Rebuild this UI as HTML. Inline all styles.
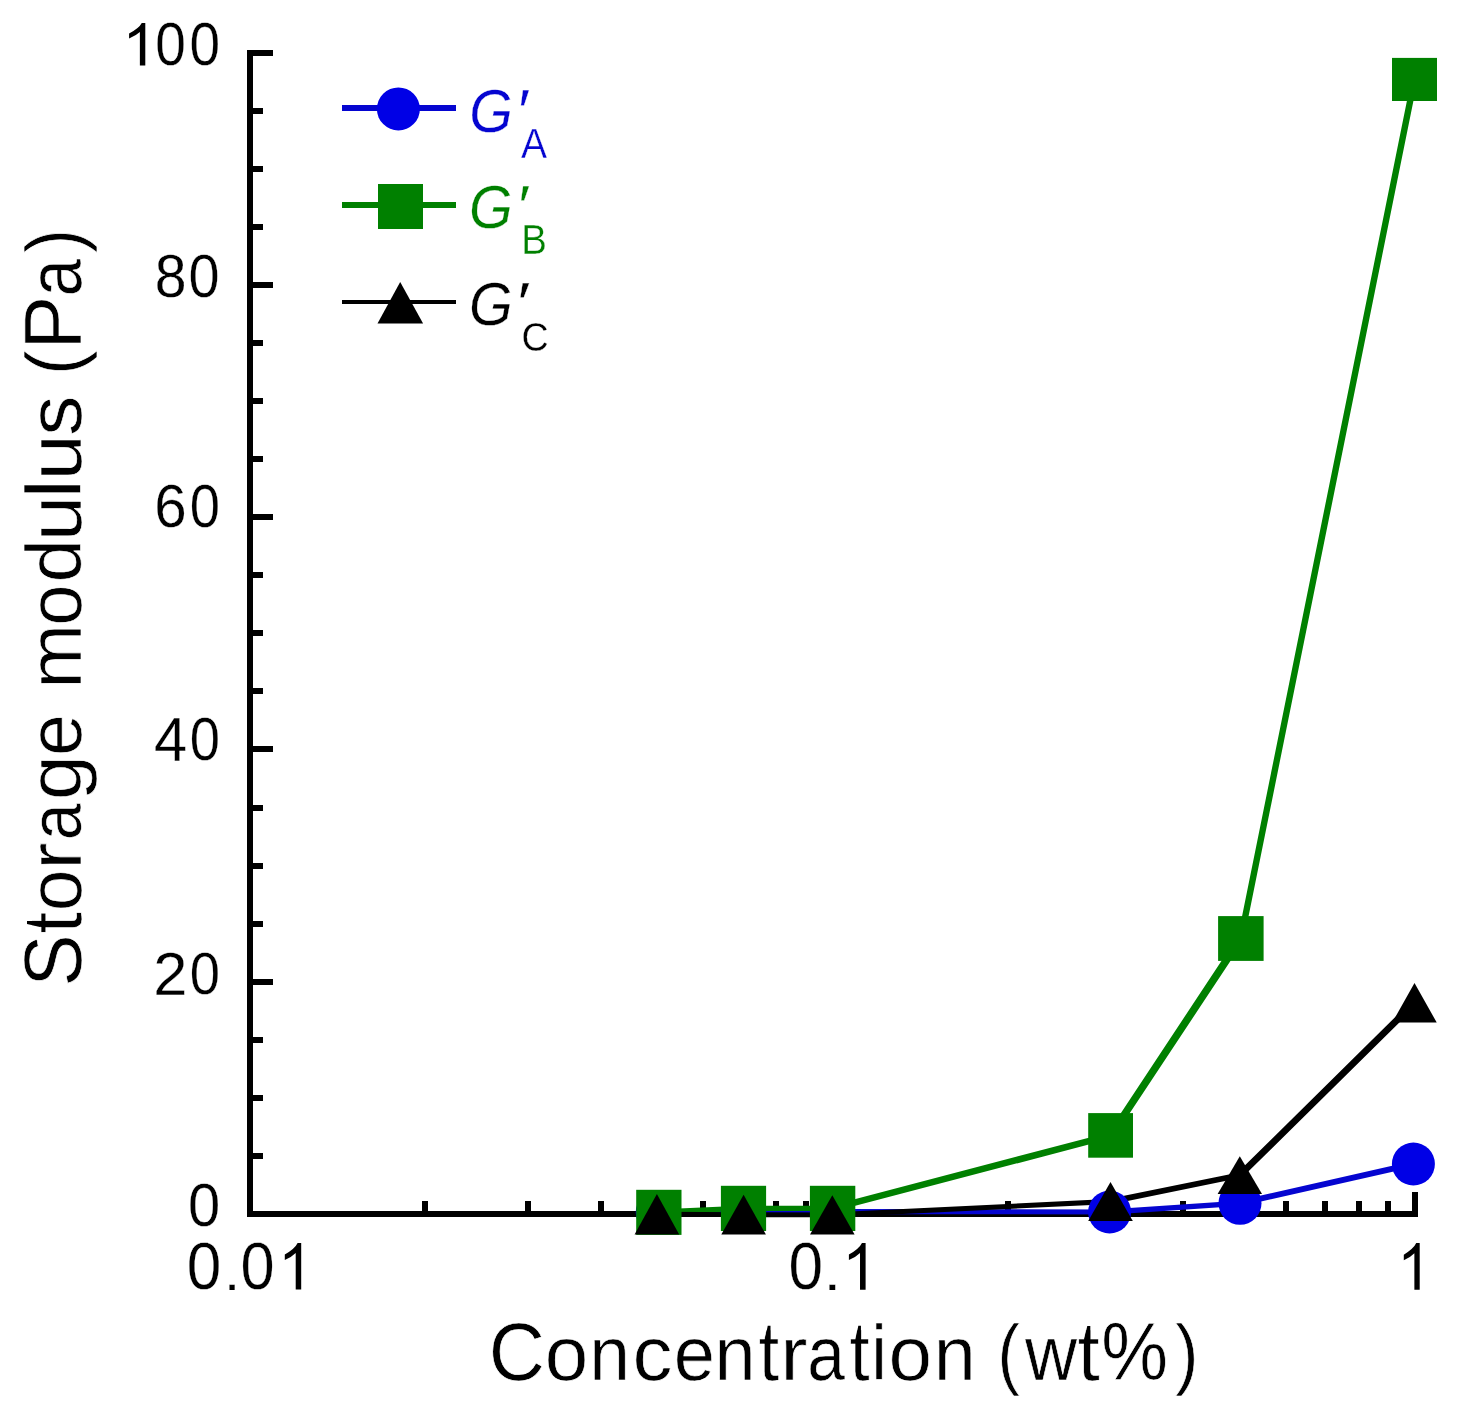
<!DOCTYPE html>
<html><head><meta charset="utf-8"><title>Storage modulus vs concentration</title>
<style>html,body{margin:0;padding:0;background:#fff;}svg{display:block;will-change:transform;}</style></head>
<body><svg width="1464" height="1413" viewBox="0 0 1464 1413" font-family="'Liberation Sans', sans-serif">
<rect width="1464" height="1413" fill="#fff"/>
<g fill="#000" shape-rendering="crispEdges"><rect x="247" y="50" width="6" height="1167"/><rect x="247" y="1211" width="1171" height="6"/><rect x="247" y="1211" width="26" height="6"/><rect x="247" y="1153" width="16" height="6"/><rect x="247" y="1095" width="16" height="6"/><rect x="247" y="1037" width="16" height="6"/><rect x="247" y="979" width="26" height="6"/><rect x="247" y="921" width="16" height="6"/><rect x="247" y="863" width="16" height="6"/><rect x="247" y="805" width="16" height="6"/><rect x="247" y="746" width="26" height="6"/><rect x="247" y="688" width="16" height="6"/><rect x="247" y="630" width="16" height="6"/><rect x="247" y="572" width="16" height="6"/><rect x="247" y="514" width="26" height="6"/><rect x="247" y="456" width="16" height="6"/><rect x="247" y="398" width="16" height="6"/><rect x="247" y="340" width="16" height="6"/><rect x="247" y="282" width="26" height="6"/><rect x="247" y="224" width="16" height="6"/><rect x="247" y="166" width="16" height="6"/><rect x="247" y="108" width="16" height="6"/><rect x="247" y="50" width="26" height="6"/><rect x="422" y="1201" width="6" height="16"/><rect x="525" y="1201" width="6" height="16"/><rect x="598" y="1201" width="6" height="16"/><rect x="654" y="1201" width="6" height="16"/><rect x="700" y="1201" width="6" height="16"/><rect x="739" y="1201" width="6" height="16"/><rect x="773" y="1201" width="6" height="16"/><rect x="803" y="1201" width="6" height="16"/><rect x="830" y="1201" width="6" height="16"/><rect x="1005" y="1201" width="6" height="16"/><rect x="1107" y="1201" width="6" height="16"/><rect x="1180" y="1201" width="6" height="16"/><rect x="1237" y="1201" width="6" height="16"/><rect x="1283" y="1201" width="6" height="16"/><rect x="1322" y="1201" width="6" height="16"/><rect x="1356" y="1201" width="6" height="16"/><rect x="1385" y="1201" width="6" height="16"/><rect x="830" y="1192" width="6" height="25"/><rect x="1412" y="1192" width="6" height="25"/></g>
<g fill="#000" stroke="#fff" stroke-width="0.45"><path transform="matrix(0.03011 0 0 -0.02899 122.32 65.40)" d="M763 0L763 1466L646 1466Q560 1290 225 1103L225 930Q450 1020 583 1150L583 0Z" fill="#000" stroke="none"/><text transform="matrix(0.5502 0 0 0.6073 155.15 64.81)" font-size="100" fill="#000">0</text><text transform="matrix(0.5502 0 0 0.6073 189.55 64.81)" font-size="100" fill="#000">0</text><text transform="matrix(0.5711 0 0 0.6088 154.82 297.31)" font-size="100" fill="#000">8</text><text transform="matrix(0.5585 0 0 0.6088 188.62 297.31)" font-size="100" fill="#000">0</text><text transform="matrix(0.5830 0 0 0.6031 154.14 527.21)" font-size="100" fill="#000">6</text><text transform="matrix(0.5439 0 0 0.6031 189.78 527.21)" font-size="100" fill="#000">0</text><text transform="matrix(0.5953 0 0 0.6250 154.03 760.50)" font-size="100" fill="#000">4</text><text transform="matrix(0.5439 0 0 0.6073 189.78 759.91)" font-size="100" fill="#000">0</text><text transform="matrix(0.6146 0 0 0.6101 153.31 994.60)" font-size="100" fill="#000">2</text><text transform="matrix(0.5439 0 0 0.6017 189.78 994.01)" font-size="100" fill="#000">0</text><text transform="matrix(0.5795 0 0 0.6073 187.94 1226.21)" font-size="100" fill="#000">0</text><text transform="matrix(0.6213 0 0 0.6582 186.87 1288.96)" font-size="100" fill="#000">0</text><text transform="matrix(0.5986 0 0 0.4956 223.83 1289.60)" font-size="100" fill="#000">.</text><text transform="matrix(0.6129 0 0 0.6582 240.61 1288.96)" font-size="100" fill="#000">0</text><path transform="matrix(0.03048 0 0 -0.03179 277.94 1289.60)" d="M763 0L763 1466L646 1466Q560 1290 225 1103L225 930Q450 1020 583 1150L583 0Z" fill="#000" stroke="none"/><text transform="matrix(0.6213 0 0 0.6624 788.57 1289.15)" font-size="100" fill="#000">0</text><text transform="matrix(0.6512 0 0 0.4956 823.35 1289.80)" font-size="100" fill="#000">.</text><path transform="matrix(0.03104 0 0 -0.03199 841.92 1289.80)" d="M763 0L763 1466L646 1466Q560 1290 225 1103L225 930Q450 1020 583 1150L583 0Z" fill="#000" stroke="none"/><path transform="matrix(0.02955 0 0 -0.03186 1397.15 1289.80)" d="M763 0L763 1466L646 1466Q560 1290 225 1103L225 930Q450 1020 583 1150L583 0Z" fill="#000" stroke="none"/></g>
<g fill="#000" stroke="#fff" stroke-width="0.8"><text transform="matrix(0.7769 0 0 0.8077 488.65 1380.30)" font-size="100" fill="#000">C</text><text transform="matrix(0.7815 0 0 0.7564 544.82 1380.30)" font-size="100" fill="#000">o</text><text transform="matrix(0.7321 0 0 0.7582 589.14 1380.30)" font-size="100" fill="#000">n</text><text transform="matrix(0.7979 0 0 0.7564 632.41 1380.30)" font-size="100" fill="#000">c</text><text transform="matrix(0.7416 0 0 0.7564 673.65 1380.30)" font-size="100" fill="#000">e</text><text transform="matrix(0.7392 0 0 0.7582 714.49 1380.30)" font-size="100" fill="#000">n</text><text transform="matrix(0.7479 0 0 0.7723 758.57 1380.30)" font-size="100" fill="#000">t</text><path transform="matrix(0.7479 0 0 0.7723 758.57 1380.30)" d="M8.387 -52.832L12.300 -70.702L15.978 -70.702L15.978 -52.832Z" fill="#000" stroke="none"/><text transform="matrix(0.8200 0 0 0.7582 780.15 1380.30)" font-size="100" fill="#000">r</text><text transform="matrix(0.6775 0 0 0.7564 807.32 1380.30)" font-size="100" fill="#000">a</text><text transform="matrix(0.7244 0 0 0.7723 849.40 1380.30)" font-size="100" fill="#000">t</text><path transform="matrix(0.7244 0 0 0.7723 849.40 1380.30)" d="M8.401 -52.832L12.314 -70.702L15.965 -70.702L15.965 -52.832Z" fill="#000" stroke="none"/><text transform="matrix(0.7054 0 0 0.7742 871.18 1380.30)" font-size="100" fill="#000">i</text><text transform="matrix(0.7815 0 0 0.7564 888.42 1380.30)" font-size="100" fill="#000">o</text><text transform="matrix(0.7556 0 0 0.7582 933.78 1380.30)" font-size="100" fill="#000">n</text><text transform="matrix(0.6714 0 0 0.7784 997.44 1380.30)" font-size="100" fill="#000">(</text><text transform="matrix(0.7217 0 0 0.7704 1025.11 1380.30)" font-size="100" fill="#000">w</text><text transform="matrix(0.8028 0 0 0.7723 1077.48 1380.30)" font-size="100" fill="#000">t</text><path transform="matrix(0.8028 0 0 0.7723 1077.48 1380.30)" d="M8.358 -52.832L12.186 -70.313L16.008 -70.313L16.008 -52.832Z" fill="#000" stroke="none"/><text transform="matrix(0.7520 0 0 0.8129 1101.32 1380.30)" font-size="100" fill="#000">%</text><text transform="matrix(0.6978 0 0 0.7784 1175.29 1380.30)" font-size="100" fill="#000">)</text></g>
<g fill="#000" stroke="#fff" stroke-width="0.8"><text transform="matrix(0 -0.7869 0.8120 0 80.90 986.77)" font-size="100" fill="#000">S</text><text transform="matrix(0 -0.7793 0.7647 0 80.90 933.48)" font-size="100" fill="#000">t</text><path transform="matrix(0 -0.7793 0.7647 0 80.90 933.48)" d="M8.370 -52.832L12.236 -70.486L15.996 -70.486L15.996 -52.832Z" fill="#000" stroke="none"/><text transform="matrix(0 -0.7497 0.7508 0 80.90 911.35)" font-size="100" fill="#000">o</text><text transform="matrix(0 -0.8200 0.7508 0 80.90 869.75)" font-size="100" fill="#000">r</text><text transform="matrix(0 -0.6619 0.7452 0 80.90 840.21)" font-size="100" fill="#000">a</text><text transform="matrix(0 -0.8161 0.7529 0 80.90 800.13)" font-size="100" fill="#000">g</text><text transform="matrix(0 -0.7544 0.7508 0 80.90 756.10)" font-size="100" fill="#000">e</text><text transform="matrix(0 -0.7778 0.7508 0 80.90 688.67)" font-size="100" fill="#000">m</text><text transform="matrix(0 -0.7413 0.7508 0 80.90 625.71)" font-size="100" fill="#000">o</text><text transform="matrix(0 -0.7850 0.7825 0 80.90 582.40)" font-size="100" fill="#000">d</text><text transform="matrix(0 -0.8168 0.7647 0 80.90 541.30)" font-size="100" fill="#000">u</text><text transform="matrix(0 -0.8875 0.7825 0 80.90 498.78)" font-size="100" fill="#000">l</text><text transform="matrix(0 -0.8333 0.7647 0 80.90 480.51)" font-size="100" fill="#000">u</text><text transform="matrix(0 -0.8050 0.7529 0 80.90 435.64)" font-size="100" fill="#000">s</text><text transform="matrix(0 -0.7468 0.7825 0 80.90 375.33)" font-size="100" fill="#000">(</text><text transform="matrix(0 -0.8098 0.8241 0 80.90 349.74)" font-size="100" fill="#000">P</text><text transform="matrix(0 -0.6755 0.7508 0 80.90 296.47)" font-size="100" fill="#000">a</text><text transform="matrix(0 -0.7242 0.7825 0 80.90 253.02)" font-size="100" fill="#000">)</text></g>
<path d="M654.7 1209.8L739.8 1209.3L744.8 1209.3L744.8 1214.3L659.7 1214.8L654.7 1214.8ZM739.8 1209.3L830.0 1209.0L835.0 1209.0L835.0 1214.0L744.8 1214.3L739.8 1214.3ZM830.0 1209.0L835.0 1209.0L1112.1 1209.5L1112.1 1214.5L1107.1 1214.5L830.0 1214.0ZM1107.1 1209.5L1237.5 1200.8L1242.5 1200.8L1242.5 1205.8L1112.1 1214.5L1107.1 1214.5ZM1237.5 1200.8L1410.9 1161.5L1415.9 1161.5L1415.9 1166.5L1242.5 1205.8L1237.5 1205.8Z" fill="#0505d0"/>
<path d="M656.1 1209.6L740.8 1205.7L746.2 1205.7L746.2 1211.1L661.6 1215.0L656.1 1215.0ZM740.8 1205.7L835.3 1205.7L835.3 1211.1L740.8 1211.1ZM829.9 1205.7L1107.9 1132.7L1113.3 1132.7L1113.3 1138.1L835.3 1211.1L829.9 1211.1ZM1107.9 1132.7L1238.1 935.8L1243.5 935.8L1243.5 941.2L1113.3 1138.1L1107.9 1138.1ZM1238.1 935.8L1411.8 76.8L1417.2 76.8L1417.2 82.2L1243.5 941.2L1238.1 941.2Z" fill="#008000"/>
<path d="M654.5 1211.8L659.3 1211.8L746.0 1212.2L746.0 1217.1L741.2 1217.1L654.5 1216.7ZM741.2 1212.2L746.0 1212.2L834.7 1212.5L834.7 1217.3L829.9 1217.3L741.2 1217.1ZM829.9 1212.5L1108.1 1199.1L1112.9 1199.1L1112.9 1203.9L834.7 1217.3L829.9 1217.3ZM1108.1 1199.1L1237.4 1172.8L1242.2 1172.8L1242.2 1177.6L1112.9 1203.9L1108.1 1203.9ZM1237.4 1172.8L1412.1 1000.4L1416.9 1000.4L1416.9 1005.2L1242.2 1177.6L1237.4 1177.6Z" fill="#000000"/>
<circle cx="657.2" cy="1212.3" r="21.5" fill="#0000e6"/><circle cx="742.3" cy="1211.8" r="21.5" fill="#0000e6"/><circle cx="832.5" cy="1211.5" r="21.5" fill="#0000e6"/><circle cx="1109.6" cy="1212.0" r="21.5" fill="#0000e6"/><circle cx="1240.0" cy="1203.3" r="21.5" fill="#0000e6"/><circle cx="1413.4" cy="1164.0" r="21.5" fill="#0000e6"/>
<rect x="636.2" y="1189.8" width="45.3" height="45.1" fill="#008000"/><rect x="720.9" y="1185.8" width="45.2" height="45.2" fill="#008000"/><rect x="809.9" y="1185.8" width="45.4" height="45.2" fill="#008000"/><rect x="1088.2" y="1113.1" width="44.8" height="44.6" fill="#008000"/><rect x="1218.1" y="916.1" width="45.5" height="44.8" fill="#008000"/><rect x="1392.0" y="57.9" width="45.0" height="43.1" fill="#008000"/>
<path d="M656.9 1194.0L679.2 1234.5L634.6 1234.5Z" fill="#000000"/><path d="M743.6 1194.7L765.9 1234.6L721.3 1234.6Z" fill="#000000"/><path d="M832.3 1195.3L854.6 1234.6L810.0 1234.6Z" fill="#000000"/><path d="M1110.5 1182.1L1132.8 1220.9L1088.2 1220.9Z" fill="#000000"/><path d="M1239.8 1156.2L1262.0 1194.1L1217.6 1194.1Z" fill="#000000"/><path d="M1414.5 983.1L1436.7 1022.5L1392.3 1022.5Z" fill="#000000"/>
<rect x="342" y="105" width="114" height="6" fill="#0505d0"/><circle cx="398.4" cy="108.9" r="21.5" fill="#0000e6"/><rect x="342" y="202" width="114" height="6" fill="#008000"/><rect x="378" y="184" width="45" height="45" fill="#008000"/><rect x="342" y="300" width="114" height="4" fill="#000000"/><path d="M400.2 282.1L423.1 323.6L377.5 323.6Z" fill="#000000"/><g stroke="#fff" stroke-width="0.5"><text transform="matrix(0.5601 0 0 0.6172 469.34 132.30)" font-size="100" font-style="italic" fill="#0505d0">G</text><text transform="matrix(0.6538 0 0 0.6195 515.09 131.82)" font-size="100" font-style="italic" fill="#0505d0">′</text></g><g stroke="#fff" stroke-width="0.8"><text transform="matrix(0.3906 0 0 0.4288 521.12 158.40)" font-size="100" fill="#0505d0">A</text></g><g stroke="#fff" stroke-width="0.5"><text transform="matrix(0.5616 0 0 0.6017 469.03 228.41)" font-size="100" font-style="italic" fill="#008000">G</text><text transform="matrix(0.6459 0 0 0.5801 515.26 226.31)" font-size="100" font-style="italic" fill="#008000">′</text></g><g stroke="#fff" stroke-width="0.8"><text transform="matrix(0.3852 0 0 0.4172 521.14 254.40)" font-size="100" fill="#008000">B</text></g><g stroke="#fff" stroke-width="0.5"><text transform="matrix(0.5616 0 0 0.6017 469.03 325.01)" font-size="100" font-style="italic" fill="#000000">G</text><text transform="matrix(0.7089 0 0 0.5801 513.90 322.91)" font-size="100" font-style="italic" fill="#000000">′</text></g><g stroke="#fff" stroke-width="0.8"><text transform="matrix(0.3758 0 0 0.4096 521.49 350.60)" font-size="100" fill="#000000">C</text></g>
</svg></body></html>
